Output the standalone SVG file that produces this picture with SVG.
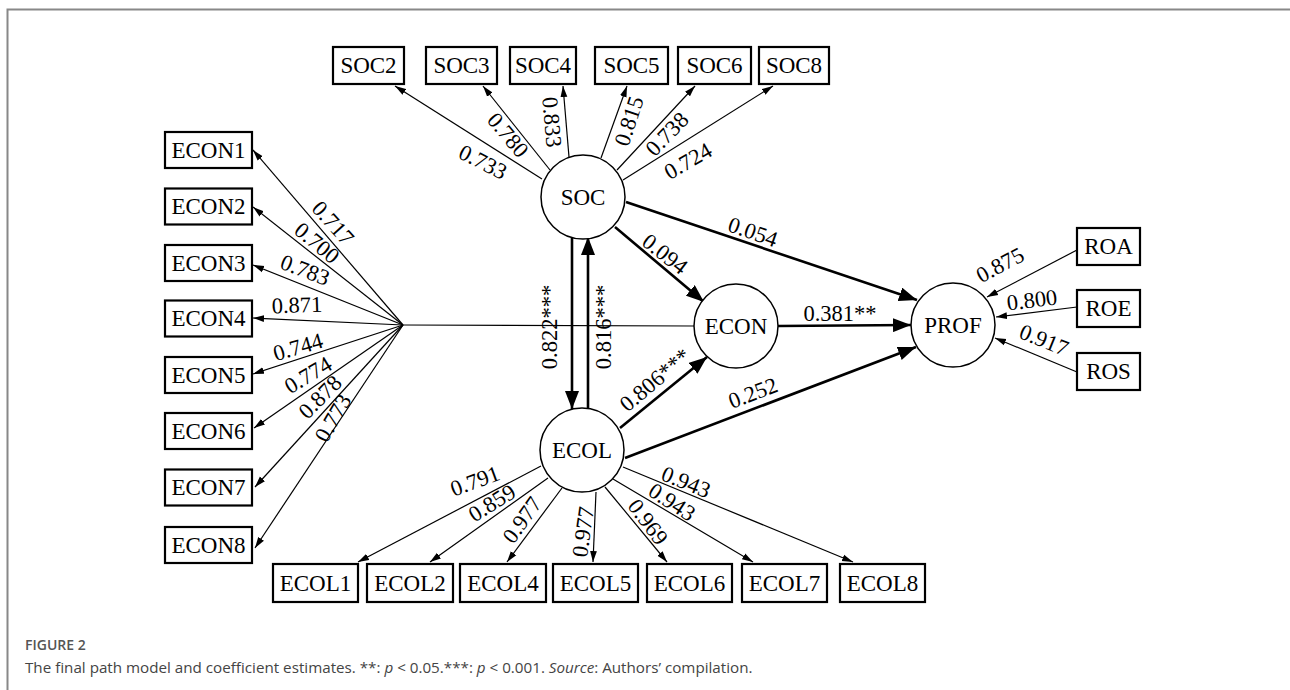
<svg xmlns="http://www.w3.org/2000/svg" width="1290" height="690" viewBox="0 0 1290 690">
<style>
.box{fill:#fff;stroke:#000;stroke-width:2.2}
.lat{fill:#fff;stroke:#000;stroke-width:1.5}
.t{font-family:"Liberation Serif","Times New Roman",serif;font-size:22.5px;fill:#000;text-anchor:middle;dominant-baseline:central}
.n{font-size:23px}
.thin{stroke:#000;stroke-width:1.2;fill:none}
.thick{stroke:#000;stroke-width:2.6;fill:none}
.cap{font-family:"Open Sans","Noto Sans",sans-serif}
</style>
<defs>
<marker id="a" markerWidth="11" markerHeight="8" refX="11" refY="4" orient="auto" markerUnits="userSpaceOnUse"><path d="M0,0.6 L11,4 L0,7.4 Z" fill="#000"/></marker>
<marker id="A" markerWidth="18" markerHeight="14" refX="18" refY="7" orient="auto" markerUnits="userSpaceOnUse"><path d="M0,0 L18,7 L0,14 Z" fill="#000"/></marker>
</defs>
<rect width="1290" height="690" fill="#fff"/>
<path d="M7.5,690 V9.5 H1290" fill="none" stroke="#888" stroke-width="2"/>

<g id="connectors">
<line class="thin" x1="542" y1="179" x2="395" y2="86" marker-end="url(#a)"/>
<line class="thin" x1="550" y1="170" x2="483" y2="86" marker-end="url(#a)"/>
<line class="thin" x1="569" y1="157" x2="563" y2="86" marker-end="url(#a)"/>
<line class="thin" x1="601" y1="158" x2="627" y2="86" marker-end="url(#a)"/>
<line class="thin" x1="617" y1="170" x2="695" y2="86" marker-end="url(#a)"/>
<line class="thin" x1="623" y1="180" x2="773" y2="86" marker-end="url(#a)"/>
<line class="thin" x1="694" y1="326" x2="403" y2="325"/>
<line class="thin" x1="403" y1="325" x2="253" y2="150" marker-end="url(#a)"/>
<line class="thin" x1="403" y1="325" x2="253" y2="207" marker-end="url(#a)"/>
<line class="thin" x1="403" y1="325" x2="253" y2="265" marker-end="url(#a)"/>
<line class="thin" x1="403" y1="325" x2="253" y2="318" marker-end="url(#a)"/>
<line class="thin" x1="403" y1="325" x2="253" y2="374" marker-end="url(#a)"/>
<line class="thin" x1="403" y1="325" x2="254" y2="428" marker-end="url(#a)"/>
<line class="thin" x1="403" y1="325" x2="255" y2="487" marker-end="url(#a)"/>
<line class="thin" x1="403" y1="325" x2="255" y2="548" marker-end="url(#a)"/>
<line class="thin" x1="541" y1="466" x2="358" y2="562" marker-end="url(#a)"/>
<line class="thin" x1="548" y1="478" x2="430" y2="562" marker-end="url(#a)"/>
<line class="thin" x1="562" y1="488" x2="507" y2="562" marker-end="url(#a)"/>
<line class="thin" x1="596" y1="492" x2="593" y2="562" marker-end="url(#a)"/>
<line class="thin" x1="605" y1="487" x2="667" y2="562" marker-end="url(#a)"/>
<line class="thin" x1="613" y1="479" x2="753" y2="562" marker-end="url(#a)"/>
<line class="thin" x1="623" y1="467" x2="853" y2="562" marker-end="url(#a)"/>
<line class="thin" x1="1077" y1="250" x2="987" y2="297" marker-end="url(#a)"/>
<line class="thin" x1="1077" y1="307" x2="996" y2="317" marker-end="url(#a)"/>
<line class="thin" x1="1077" y1="372" x2="995" y2="338" marker-end="url(#a)"/>
<line class="thick" x1="626" y1="202" x2="917" y2="300" marker-end="url(#A)"/>
<line class="thick" x1="615" y1="227" x2="704" y2="302" marker-end="url(#A)"/>
<line class="thick" x1="778" y1="326" x2="911" y2="325" marker-end="url(#A)"/>
<line class="thick" x1="620" y1="428" x2="707" y2="357" marker-end="url(#A)"/>
<line class="thick" x1="625" y1="458" x2="916" y2="347" marker-end="url(#A)"/>
<line class="thick" x1="572" y1="238" x2="572" y2="409" marker-end="url(#A)"/>
<line class="thick" x1="588" y1="408" x2="588" y2="237" marker-end="url(#A)"/>
</g>

<g id="labels">
<text class="t" transform="translate(483,162) rotate(27)">0.733</text>
<text class="t" transform="translate(508,135) rotate(50)">0.780</text>
<text class="t" transform="translate(552,122) rotate(85)">0.833</text>
<text class="t" transform="translate(629,121) rotate(-72)">0.815</text>
<text class="t" transform="translate(667,134) rotate(-46)">0.738</text>
<text class="t" transform="translate(688,161) rotate(-30)">0.724</text>
<text class="t" transform="translate(333,223) rotate(48)">0.717</text>
<text class="t" transform="translate(317,243) rotate(40)">0.700</text>
<text class="t" transform="translate(305,270) rotate(21)">0.783</text>
<text class="t" transform="translate(297,305) rotate(-2)">0.871</text>
<text class="t" transform="translate(298,347) rotate(-16)">0.744</text>
<text class="t" transform="translate(308,375) rotate(-31)">0.774</text>
<text class="t" transform="translate(320,397) rotate(-45)">0.878</text>
<text class="t" transform="translate(333,418) rotate(-60)">0.773</text>
<text class="t" transform="translate(475,481) rotate(-20)">0.791</text>
<text class="t" transform="translate(492,503) rotate(-32)">0.859</text>
<text class="t" transform="translate(522,520) rotate(-55)">0.977</text>
<text class="t" transform="translate(583,532) rotate(-82)">0.977</text>
<text class="t" transform="translate(648,522) rotate(53)">0.969</text>
<text class="t" transform="translate(672,502) rotate(33)">0.943</text>
<text class="t" transform="translate(686,482) rotate(22)">0.943</text>
<text class="t" transform="translate(1000,265) rotate(-28)">0.875</text>
<text class="t" transform="translate(1032,300) rotate(-7)">0.800</text>
<text class="t" transform="translate(1044,340) rotate(22)">0.917</text>
<text class="t" transform="translate(753,232) rotate(19)">0.054</text>
<text class="t" transform="translate(665,254) rotate(38)">0.094</text>
<text class="t" transform="translate(840,313)">0.381**</text>
<text class="t" transform="translate(549,327) rotate(-90)">0.822***</text>
<text class="t" transform="translate(603,327) rotate(-90)">0.816***</text>
<text class="t" transform="translate(655,380) rotate(-40)">0.806***</text>
<text class="t" transform="translate(753,393) rotate(-21)">0.252</text>
</g>

<g id="SOC2"><rect class="box" x="333" y="47" width="71" height="37"/><text class="t n" x="368.5" y="65.5">SOC2</text></g>
<g id="SOC3"><rect class="box" x="426" y="47" width="71" height="37"/><text class="t n" x="461.5" y="65.5">SOC3</text></g>
<g id="SOC4"><rect class="box" x="510" y="47" width="66" height="37"/><text class="t n" x="543" y="65.5">SOC4</text></g>
<g id="SOC5"><rect class="box" x="595" y="47" width="73" height="37"/><text class="t n" x="631.5" y="65.5">SOC5</text></g>
<g id="SOC6"><rect class="box" x="678" y="47" width="73" height="37"/><text class="t n" x="714.5" y="65.5">SOC6</text></g>
<g id="SOC8"><rect class="box" x="759" y="47" width="70" height="37"/><text class="t n" x="794" y="65.5">SOC8</text></g>

<g id="ECON1"><rect class="box" x="165" y="132" width="87" height="36"/><text class="t n" x="208.5" y="150">ECON1</text></g>
<g id="ECON2"><rect class="box" x="165" y="188.5" width="87" height="36"/><text class="t n" x="208.5" y="206.5">ECON2</text></g>
<g id="ECON3"><rect class="box" x="165" y="245" width="87" height="36"/><text class="t n" x="208.5" y="263">ECON3</text></g>
<g id="ECON4"><rect class="box" x="165" y="300.5" width="87" height="36"/><text class="t n" x="208.5" y="318.5">ECON4</text></g>
<g id="ECON5"><rect class="box" x="165" y="357" width="87" height="36"/><text class="t n" x="208.5" y="375">ECON5</text></g>
<g id="ECON6"><rect class="box" x="165" y="413" width="87" height="36"/><text class="t n" x="208.5" y="431">ECON6</text></g>
<g id="ECON7"><rect class="box" x="165" y="469.5" width="87" height="36"/><text class="t n" x="208.5" y="487.5">ECON7</text></g>
<g id="ECON8"><rect class="box" x="165" y="527" width="87" height="36"/><text class="t n" x="208.5" y="545">ECON8</text></g>

<g id="ECOL1"><rect class="box" x="273" y="564" width="85" height="38"/><text class="t n" x="315.5" y="583">ECOL1</text></g>
<g id="ECOL2"><rect class="box" x="367" y="564" width="86" height="38"/><text class="t n" x="410" y="583">ECOL2</text></g>
<g id="ECOL4"><rect class="box" x="460" y="564" width="86" height="38"/><text class="t n" x="503" y="583">ECOL4</text></g>
<g id="ECOL5"><rect class="box" x="553" y="564" width="85" height="38"/><text class="t n" x="595.5" y="583">ECOL5</text></g>
<g id="ECOL6"><rect class="box" x="647" y="564" width="85" height="38"/><text class="t n" x="689.5" y="583">ECOL6</text></g>
<g id="ECOL7"><rect class="box" x="742" y="564" width="85" height="38"/><text class="t n" x="784.5" y="583">ECOL7</text></g>
<g id="ECOL8"><rect class="box" x="840" y="564" width="85" height="38"/><text class="t n" x="882.5" y="583">ECOL8</text></g>

<g id="ROA"><rect class="box" x="1077" y="228" width="63" height="37"/><text class="t n" x="1108.5" y="246.5">ROA</text></g>
<g id="ROE"><rect class="box" x="1077" y="290" width="63" height="37"/><text class="t n" x="1108.5" y="308.5">ROE</text></g>
<g id="ROS"><rect class="box" x="1077" y="353" width="63" height="37"/><text class="t n" x="1108.5" y="371.5">ROS</text></g>

<g id="SOC"><circle class="lat" cx="583" cy="197" r="42"/><text class="t n" x="583" y="197">SOC</text></g>
<g id="ECON"><circle class="lat" cx="736" cy="326" r="42"/><text class="t n" x="736" y="326">ECON</text></g>
<g id="ECOL"><circle class="lat" cx="582" cy="450" r="42"/><text class="t n" x="582" y="450">ECOL</text></g>
<g id="PROF"><circle class="lat" cx="953" cy="325" r="42"/><text class="t n" x="953" y="325">PROF</text></g>

<g id="caption">
<text class="cap" x="25" y="650" font-size="14" font-weight="600" fill="#555">FIGURE 2</text>
<text class="cap" x="25" y="673" font-size="15.2" fill="#444">The final path model and coefficient estimates. **: <tspan font-style="italic">p</tspan> &lt; 0.05.***: <tspan font-style="italic">p</tspan> &lt; 0.001. <tspan font-style="italic">Source</tspan>: Authors’ compilation.</text>
</g>
</svg>
